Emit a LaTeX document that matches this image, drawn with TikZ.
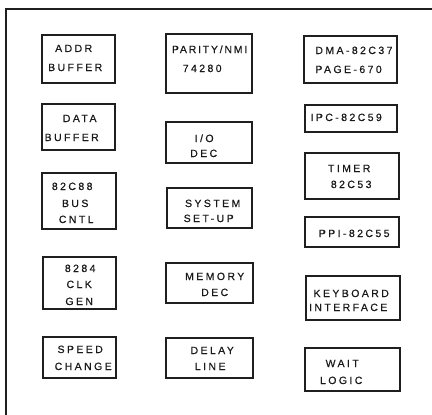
\documentclass[tikz,border=0pt]{standalone}
\usepackage{fontspec}
\setmainfont{Liberation Sans}
\newfontfamily\boxfont[LetterSpace=23,FakeBold=0.5]{Liberation Sans}
\newfontfamily\boxfontn[LetterSpace=17,FakeBold=0.5]{Liberation Sans}
\tikzset{
  box/.style={draw=black!88, line width=1.4pt, rectangle, inner sep=0pt},
  lbl/.style={font=\boxfont\fontsize{10.5}{12}\selectfont, inner sep=0pt, text=black!90, anchor=base, xshift=1.2pt},
  lbln/.style={lbl, font=\boxfontn\fontsize{10.5}{12}\selectfont, xshift=0.9pt},
  lblw/.style={lbl, anchor=base west, xshift=0pt},
  frame/.style={draw=black!88, line width=2pt}
}
\newcommand\bx[5]{\node[box, minimum width={#4pt-#2pt}, minimum height={#5pt-#3pt}] (#1) at ({(#2+#4)/2},{(#3+#5)/2}) {};}
\newcommand\tl[4]{\node[lbl] (#1) at (#2,#3) {#4};}
\begin{document}
\begin{tikzpicture}[x=1pt,y=-1pt]
\useasboundingbox (0,0) rectangle (432,415);
\coordinate (ftr) at (432,8.5);
\coordinate (ftl) at (6,8.5);
\coordinate (fbl) at (6,415);
\draw[frame] (ftr) -- (ftl) -- (fbl);
% left column
\bx{addr}{42}{35}{115}{83}
\bx{data}{42}{104}{115}{150}
\bx{bus}{42}{173}{116}{229}
\bx{clk}{43}{257}{116}{309}
\bx{speed}{43}{337}{116}{378}
% middle column
\bx{parity}{166}{34}{252}{93}
\bx{io}{166}{122}{252}{163}
\bx{sys}{167}{188}{252}{228}
\bx{mem}{166}{263}{253}{303}
\bx{delay}{166}{338}{253}{378}
% right column
\bx{dma}{304}{36}{397}{83}
\bx{ipc}{305}{105}{397}{132}
\bx{timer}{305}{153}{399}{199}
\bx{ppi}{305}{217}{399}{247}
\bx{key}{306}{276}{400}{320}
\bx{wait}{305}{348}{400}{391}
% labels
\tl{addrA}{72.5}{52}{ADDR}
\tl{addrB}{74}{71}{BUFFER}
\tl{dataA}{78.5}{122}{DATA}
\tl{dataB}{70.5}{141}{BUFFER}
\tl{busA}{71}{190}{82C88}
\tl{busB}{74}{207}{BUS}
\tl{busC}{75}{223}{CNTL}
\tl{clkA}{79}{272}{8284}
\tl{clkB}{78}{288}{CLK}
\tl{clkC}{78}{305}{GEN}
\tl{speedA}{79}{353}{SPEED}
\tl{speedB}{82}{370}{CHANGE}
\node[lbln] (parA) at (207.5,53) {PARITY/NMI};
\tl{parB}{201}{72}{74280}
\tl{ioA}{203}{142}{I/O}
\tl{ioB}{202.5}{157}{DEC}
\tl{sysA}{211.5}{207}{SYSTEM}
\tl{sysB}{207.5}{222}{SET-UP}
\tl{memA}{213.5}{280}{MEMORY}
\tl{memB}{213.5}{296}{DEC}
\tl{delA}{211}{354}{DELAY}
\tl{delB}{209}{370}{LINE}
\node[lblw] (dmaA) at (314,54) {DMA-82C37};
\node[lblw] (dmaB) at (314,73) {PAGE-670};
\tl{ipcA}{345}{121}{IPC-82C59}
\tl{timA}{348}{172}{TIMER}
\tl{timB}{350}{188}{82C53}
\tl{ppiA}{353}{237}{PPI-82C55}
\tl{keyA}{350}{297}{KEYBOARD}
\tl{keyB}{347}{311}{INTERFACE}
\tl{waitA}{341}{367}{WAIT}
\tl{waitB}{340}{384}{LOGIC}
\end{tikzpicture}
\end{document}
